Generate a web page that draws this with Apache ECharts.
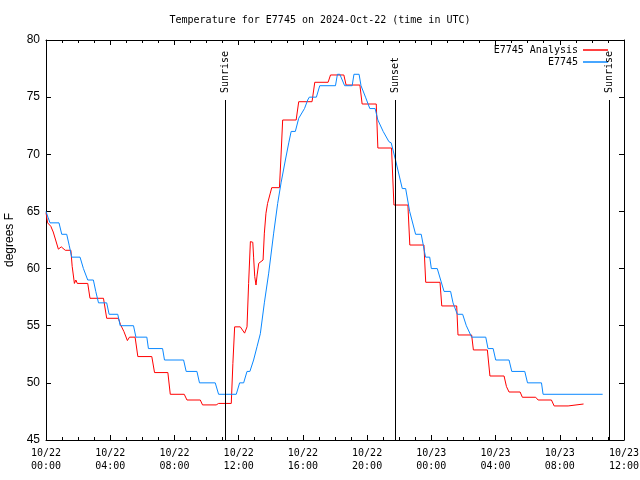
<!DOCTYPE html>
<html>
<head>
<meta charset="utf-8">
<script src="https://cdn.jsdelivr.net/npm/echarts@6/dist/echarts.min.js"></script>
<style>html,body{margin:0;padding:0;background:#fff}#c{width:640px;height:480px}</style>
</head>
<body>
<div id="c"></div>
<script>
// Hours since 2024-10-22 00:00 UTC
var analysisHours = [0.0,0.1,0.3,0.45,0.6,0.77,0.95,1.2,1.55,1.63,1.77,1.86,1.95,2.6,2.74,3.58,3.78,4.51,4.64,4.85,5.07,5.2,5.55,5.72,6.59,6.76,7.59,7.74,8.61,8.78,9.61,9.75,10.6,10.75,11.54,11.64,11.75,12.1,12.37,12.52,12.62,12.73,12.88,12.93,13.0,13.08,13.15,13.25,13.52,13.6,13.7,13.8,13.97,14.06,14.54,14.64,14.74,15.58,15.74,16.57,16.74,17.57,17.72,18.55,18.69,19.55,19.69,20.57,20.67,21.52,21.67,22.54,22.66,23.54,23.65,24.54,24.65,25.58,25.66,26.51,26.62,27.49,27.65,28.53,28.68,28.84,29.53,29.67,30.5,30.65,31.48,31.65,32.52,32.63,33.48];
var analysisTemps = [64.9,64.0,63.7,63.2,62.5,61.7,61.9,61.6,61.6,60.2,58.7,59.0,58.7,58.7,57.4,57.4,55.65,55.65,55.1,54.5,53.7,54.0,54.0,52.3,52.3,50.9,50.9,49.0,49.0,48.5,48.5,48.07,48.07,48.2,48.2,51.7,54.9,54.9,54.35,54.9,58.7,62.36,62.3,61.0,59.3,58.56,59.44,60.46,60.75,63.1,64.84,65.7,66.6,67.08,67.08,69.94,73.0,73.0,74.6,74.6,76.3,76.3,76.94,76.94,76.06,76.06,74.4,74.4,70.55,70.55,65.56,65.56,62.06,62.06,58.8,58.8,56.73,56.73,54.19,54.19,52.88,52.88,50.6,50.6,49.67,49.2,49.2,48.74,48.74,48.5,48.5,47.98,47.98,48.15,48.15];

var obsHours = [0.0,0.12,0.25,0.81,0.98,1.29,1.45,1.6,2.12,2.33,2.45,2.6,2.95,3.1,3.27,3.78,3.93,4.47,4.62,5.45,5.6,6.28,6.38,7.26,7.38,8.57,8.73,9.4,9.56,10.54,10.75,11.85,12.06,12.31,12.52,12.7,12.93,13.15,13.35,13.6,13.87,14.18,14.43,14.64,14.91,15.12,15.27,15.53,15.74,16.1,16.3,16.4,16.84,17.05,18.03,18.15,18.3,18.6,19.07,19.18,19.5,19.62,19.9,20.17,20.5,20.67,21.0,21.36,21.5,21.77,22.19,22.4,22.65,23.02,23.37,23.64,23.9,24.0,24.37,24.79,25.2,25.35,25.62,25.95,26.18,26.51,27.39,27.53,27.85,28.01,28.84,29.01,29.82,29.99,30.86,30.96,34.67];
var obsTemps = [65.0,64.5,64.0,64.0,63.0,63.0,62.0,61.0,61.0,60.0,60.0,59.0,59.0,58.0,57.0,57.0,56.0,56.0,55.0,55.0,54.0,54.0,53.0,53.0,52.0,52.0,51.0,51.0,50.0,50.0,49.0,49.0,50.0,50.0,51.0,51.0,52.0,53.2,54.3,57.0,59.6,63.1,65.7,67.5,69.5,71.0,72.0,72.0,73.15,74.0,74.75,75.0,75.0,76.0,76.0,77.0,77.0,76.0,76.0,77.0,77.0,76.0,75.0,74.0,74.0,73.0,72.0,71.1,71.0,69.5,67.0,67.0,65.0,63.0,63.0,61.0,61.0,60.0,60.0,58.0,58.0,57.0,56.0,56.0,55.0,54.0,54.0,53.0,53.0,52.0,52.0,51.0,51.0,50.0,50.0,49.0,49.0];

var sunHours = [11.17, 21.73, 35.08];
var sunLabels = ['Sunrise', 'Sunset', 'Sunrise'];

var xTickLabels = ['10/22\n00:00','10/22\n04:00','10/22\n08:00','10/22\n12:00','10/22\n16:00','10/22\n20:00','10/23\n00:00','10/23\n04:00','10/23\n08:00','10/23\n12:00'];
var yTickValues = [45,50,55,60,65,70,75,80];

var seriesNames = ['E7745 Analysis', 'E7745'];
var titleText = 'Temperature for E7745 on 2024-Oct-22 (time in UTC)';

function zip(a, b) { var r = []; for (var i = 0; i < a.length; i++) r.push([a[i], b[i]]); return r; }

var mono = 'DejaVu Sans Mono';
var chart = echarts.init(document.getElementById('c'), null, {renderer: 'canvas'});

var xBase = {
  type: 'value', min: 0, max: 36, interval: 4,
  axisLine: {show: true, onZero: false, lineStyle: {color: '#000', width: 1}},
  axisTick: {show: true, inside: true, length: 5, lineStyle: {color: '#000'}},
  minorTick: {show: true, splitNumber: 4, length: 3, lineStyle: {color: '#000'}},
  splitLine: {show: false}
};
var yBase = {
  type: 'value', min: 45, max: 80, interval: 5,
  axisLine: {show: true, onZero: false, lineStyle: {color: '#000', width: 1}},
  axisTick: {show: true, inside: true, length: 5, lineStyle: {color: '#000'}},
  splitLine: {show: false}
};

chart.setOption({
  animation: false,
  backgroundColor: '#fff',
  title: {
    text: titleText, left: 'center', top: 10,
    textStyle: {fontFamily: mono, fontSize: 10, fontWeight: 'normal', color: '#000'}
  },
  legend: {
    orient: 'vertical', right: 32, top: 44, align: 'right', padding: 0, itemGap: 0,
    itemWidth: 25, itemHeight: 1.5, icon: 'rect',
    textStyle: {fontFamily: mono, fontSize: 10, color: '#000', lineHeight: 12},
    data: seriesNames
  },
  grid: {left: 46, right: 16, top: 40, bottom: 40, containLabel: false, outerBoundsMode: 'none'},
  xAxis: [
    Object.assign({}, xBase, {
      position: 'bottom',
      axisLabel: {
        show: true, margin: 7, color: '#000', fontFamily: mono, fontSize: 10, lineHeight: 13,
        formatter: function (v) { return xTickLabels[Math.round(v / 4)] || ''; }
      }
    }),
    Object.assign({}, xBase, {position: 'top', axisLabel: {show: false}})
  ],
  yAxis: [
    Object.assign({}, yBase, {
      position: 'left',
      name: 'degrees F', nameLocation: 'middle', nameGap: 30, nameRotate: 90,
      nameTextStyle: {fontFamily: 'Liberation Sans', fontSize: 12, color: '#000'},
      axisLabel: {
        show: true, margin: 6, color: '#000', fontFamily: 'Liberation Sans', fontSize: 12,
        formatter: function (v) { return yTickValues.indexOf(v) >= 0 ? String(v) : ''; }
      }
    }),
    Object.assign({}, yBase, {position: 'right', axisLabel: {show: false}})
  ],
  series: [
    {
      name: seriesNames[0], type: 'line', data: zip(analysisHours, analysisTemps),
      showSymbol: false, symbol: 'none', color: '#ff0000',
      lineStyle: {color: '#ff0000', width: 1}, z: 3
    },
    {
      name: seriesNames[1], type: 'line', data: zip(obsHours, obsTemps),
      showSymbol: false, symbol: 'none', color: '#0a88ff',
      lineStyle: {color: '#0a88ff', width: 1}, z: 4
    },
    {
      type: 'custom', z: 5, silent: true,
      data: zip(sunHours, sunLabels),
      renderItem: function (params, api) {
        var x = api.value(0);
        var label = sunLabels[params.dataIndex];
        var pb = api.coord([x, 45]);
        var pt = api.coord([x, 74.75]);
        var px = Math.round(pb[0]) + 0.5;
        return {
          type: 'group',
          children: [
            {type: 'line', shape: {x1: px, y1: pb[1], x2: px, y2: pt[1]}, style: {stroke: '#000', lineWidth: 1}},
            {type: 'text', x: px, y: pt[1] - 7, rotation: Math.PI / 2,
             style: {text: label, align: 'left', verticalAlign: 'middle', fontFamily: mono, fontSize: 10, fill: '#000'}}
          ]
        };
      }
    }
  ]
});
</script>
</body>
</html>
